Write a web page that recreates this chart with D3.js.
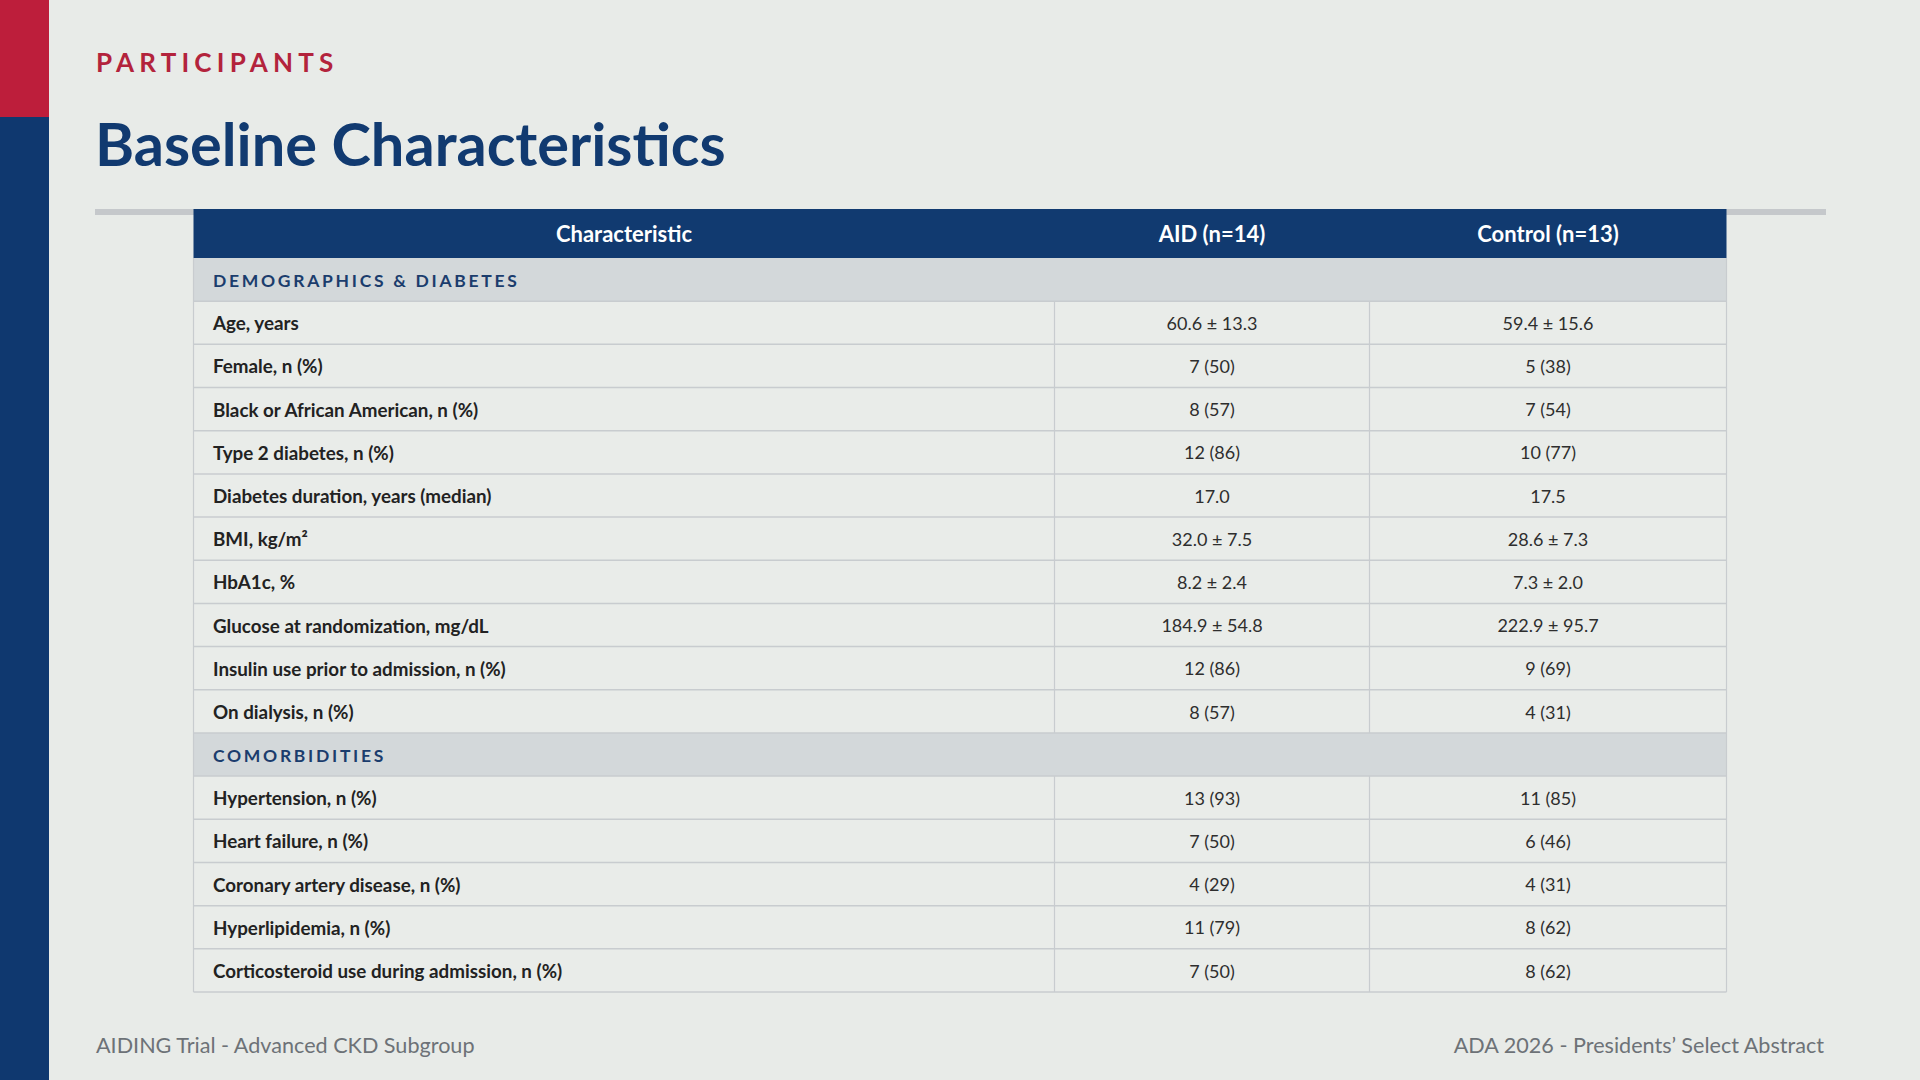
<!DOCTYPE html>
<html>
<head>
<meta charset="utf-8">
<script src="https://cdn.jsdelivr.net/npm/d3@7"></script>
<style>
  html, body { margin: 0; padding: 0; background: #e8ebe8; }
  svg { display: block; font-family: Lato, "Noto Sans", sans-serif; }
</style>
</head>
<body>
<div id="slide"></div>
<script>
// Texte de la diapositive
const kicker = "PARTICIPANTS";
const title = "Baseline Characteristics";
const footerLeft = "AIDING Trial - Advanced CKD Subgroup";
const footerRight = "ADA 2026 - Presidents\u2019 Select Abstract";

// En-têtes de colonnes
const columns = ["Characteristic", "AID (n=14)", "Control (n=13)"];

// Sections du tableau
const sections = ["DEMOGRAPHICS & DIABETES", "COMORBIDITIES"];

// Section 1 - démographie et diabète
const demoLabels = [
  "Age, years",
  "Female, n (%)",
  "Black or African American, n (%)",
  "Type 2 diabetes, n (%)",
  "Diabetes duration, years (median)",
  "BMI, kg/m\u00b2",
  "HbA1c, %",
  "Glucose at randomization, mg/dL",
  "Insulin use prior to admission, n (%)",
  "On dialysis, n (%)"
];
const demoAID = ["60.6 \u00b1 13.3", "7 (50)", "8 (57)", "12 (86)", "17.0", "32.0 \u00b1 7.5", "8.2 \u00b1 2.4", "184.9 \u00b1 54.8", "12 (86)", "8 (57)"];
const demoControl = ["59.4 \u00b1 15.6", "5 (38)", "7 (54)", "10 (77)", "17.5", "28.6 \u00b1 7.3", "7.3 \u00b1 2.0", "222.9 \u00b1 95.7", "9 (69)", "4 (31)"];

// Section 2 - comorbidités
const comorbLabels = [
  "Hypertension, n (%)",
  "Heart failure, n (%)",
  "Coronary artery disease, n (%)",
  "Hyperlipidemia, n (%)",
  "Corticosteroid use during admission, n (%)"
];
const comorbAID = ["13 (93)", "7 (50)", "4 (29)", "11 (79)", "7 (50)"];
const comorbControl = ["11 (85)", "6 (46)", "4 (31)", "8 (62)", "8 (62)"];

// Couleurs
const navy = "#113a70";
const red = "#bd1e3b";
const bg = "#e8ebe8";
const sectionBg = "#d3d8da";
const rowBg = "#e9ece9";
const lineCol = "#c8cccf";

// Lignes du tableau : section puis données
let rows = [];
function addSection(name, labels, aid, control) {
  rows.push({ type: "section", key: name, label: name });
  labels.forEach((l, i) => {
    rows.push({ type: "data", key: l, label: l, aid: aid[i], control: control[i] });
  });
}
addSection(sections[0], demoLabels, demoAID, demoControl);
addSection(sections[1], comorbLabels, comorbAID, comorbControl);

const W = 1920, H = 1080;

const svg = d3.select("#slide")
  .append("svg")
  .attr("width", W)
  .attr("height", H);

svg.append("rect").attr("width", W).attr("height", H).attr("fill", bg);

// Barre latérale
svg.append("rect").attr("x", 0).attr("y", 0).attr("width", 49).attr("height", H).attr("fill", "#0f386f");
svg.append("rect").attr("x", 0).attr("y", 0).attr("width", 49).attr("height", 117).attr("fill", red);

// Titres
svg.append("text")
  .attr("x", 96).attr("y", 72)
  .attr("fill", "#b3233c")
  .style("font-size", "26px")
  .style("font-weight", 700)
  .style("letter-spacing", "5.2px")
  .text(kicker);

svg.append("text")
  .attr("x", 95).attr("y", 166)
  .attr("fill", navy)
  .style("font-size", "59.5px")
  .style("font-weight", 700)
  .text(title);

// Filet gris sous le titre
svg.append("rect")
  .attr("x", 95).attr("y", 209)
  .attr("width", 1731).attr("height", 6)
  .attr("fill", "#c5c8cb");

// Échelles du tableau
const tableLeft = 193.5, tableRight = 1726.5;
const headerTop = 209, headerH = 49;
const bodyTop = headerTop + headerH, bodyBottom = 992;

const y = d3.scaleBand()
  .domain(rows.map(d => d.key))
  .range([bodyTop, bodyBottom])
  .padding(0);

// Bords gauches des colonnes
const x = d3.scaleOrdinal()
  .domain(columns)
  .range([tableLeft, 1054.5, 1369.5]);
const colRight = c => {
  const i = columns.indexOf(c);
  return i < columns.length - 1 ? x(columns[i + 1]) : tableRight;
};
const colMid = c => (x(c) + colRight(c)) / 2;

const table = svg.append("g");

// En-tête
table.append("rect")
  .attr("x", tableLeft).attr("y", headerTop)
  .attr("width", tableRight - tableLeft).attr("height", headerH)
  .attr("fill", navy);

table.selectAll("text.head")
  .data(columns)
  .join("text")
  .attr("class", "head")
  .attr("x", d => colMid(d))
  .attr("y", headerTop + headerH / 2)
  .attr("dy", "0.4em")
  .attr("text-anchor", "middle")
  .attr("fill", "#ffffff")
  .style("font-size", "22px")
  .style("font-weight", 700)
  .text(d => d);

// Fonds des lignes
table.selectAll("rect.row")
  .data(rows)
  .join("rect")
  .attr("class", "row")
  .attr("x", tableLeft)
  .attr("y", d => y(d.key))
  .attr("width", tableRight - tableLeft)
  .attr("height", y.bandwidth())
  .attr("fill", d => d.type === "section" ? sectionBg : rowBg);

// Séparateurs horizontaux
table.selectAll("line.hsep")
  .data(rows)
  .join("line")
  .attr("class", "hsep")
  .attr("x1", tableLeft).attr("x2", tableRight)
  .attr("y1", d => y(d.key) + y.bandwidth())
  .attr("y2", d => y(d.key) + y.bandwidth())
  .attr("stroke", lineCol)
  .attr("stroke-width", 1.5);

// Séparateurs verticaux (lignes de données seulement)
const dataRows = rows.filter(d => d.type === "data");
columns.slice(1).forEach(c => {
  table.selectAll(null)
    .data(dataRows)
    .join("line")
    .attr("x1", x(c)).attr("x2", x(c))
    .attr("y1", d => y(d.key))
    .attr("y2", d => y(d.key) + y.bandwidth())
    .attr("stroke", lineCol)
    .attr("stroke-width", 1.2);
});

// Bords extérieurs
[tableLeft, tableRight].forEach(xx => {
  table.append("line")
    .attr("x1", xx).attr("x2", xx)
    .attr("y1", bodyTop).attr("y2", bodyBottom)
    .attr("stroke", lineCol)
    .attr("stroke-width", 1.2);
});

// Libellés de section
table.selectAll("text.section")
  .data(rows.filter(d => d.type === "section"))
  .join("text")
  .attr("class", "section")
  .attr("x", 213)
  .attr("y", d => y(d.key) + y.bandwidth() / 2)
  .attr("dy", "0.4em")
  .attr("fill", "#1b3d6d")
  .style("font-size", "17.5px")
  .style("font-weight", 700)
  .style("letter-spacing", "2.7px")
  .text(d => d.label);

// Libellés des caractéristiques
table.selectAll("text.label")
  .data(dataRows)
  .join("text")
  .attr("class", "label")
  .attr("x", 213)
  .attr("y", d => y(d.key) + y.bandwidth() / 2)
  .attr("dy", "0.4em")
  .attr("fill", "#222222")
  .style("font-size", "18.8px")
  .style("font-weight", 700)
  .text(d => d.label);

// Valeurs
[["aid", columns[1]], ["control", columns[2]]].forEach(([field, col]) => {
  table.selectAll(null)
    .data(dataRows)
    .join("text")
    .attr("x", colMid(col))
    .attr("y", d => y(d.key) + y.bandwidth() / 2)
    .attr("dy", "0.4em")
    .attr("text-anchor", "middle")
    .attr("fill", "#2e2e2e")
    .style("font-size", "18px")
    .text(d => d[field]);
});

// Pied de page
svg.append("text")
  .attr("x", 96).attr("y", 1053)
  .attr("fill", "#6d7277")
  .style("font-size", "21.6px")
  .text(footerLeft);

svg.append("text")
  .attr("x", 1824).attr("y", 1053)
  .attr("text-anchor", "end")
  .attr("fill", "#6d7277")
  .style("font-size", "21.6px")
  .text(footerRight);
</script>
</body>
</html>
